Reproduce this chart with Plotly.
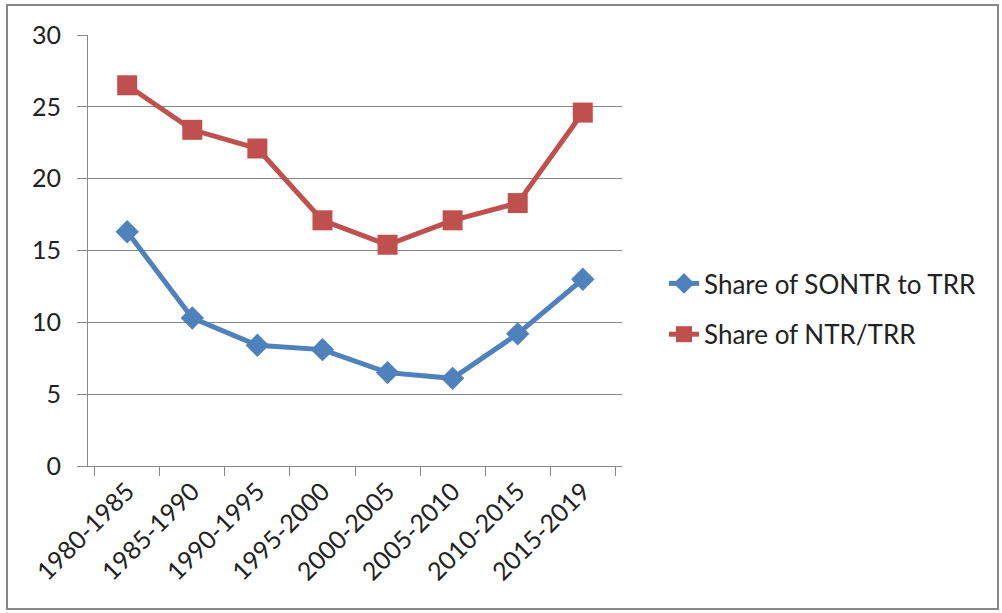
import plotly.graph_objects as go

categories = ["1980-1985", "1985-1990", "1990-1995", "1995-2000",
              "2000-2005", "2005-2010", "2010-2015", "2015-2019"]
sontr_share = [16.3, 10.3, 8.4, 8.1, 6.5, 6.1, 9.2, 13.0]
ntr_share = [26.5, 23.4, 22.1, 17.1, 15.4, 17.1, 18.3, 24.6]

FONT = "Lato"
fig = go.Figure()
fig.add_trace(go.Scatter(
    x=categories, y=sontr_share, name="Share of SONTR to TRR",
    mode="lines+markers", legendgroup="a",
    line=dict(color="#4F81BD", width=5),
    marker=dict(symbol="diamond", size=18, color="#4F81BD"),
))
fig.add_trace(go.Scatter(
    x=categories, y=ntr_share, name="Share of NTR/TRR",
    mode="lines+markers", legendgroup="b",
    line=dict(color="#C0504D", width=5),
    marker=dict(symbol="square", size=20, color="#C0504D"),
))

fig.update_layout(
    width=1002, height=613,
    margin=dict(l=88, r=380, t=35, b=147),
    paper_bgcolor="white", plot_bgcolor="white",
    font=dict(family=FONT, size=24, color="#222222"),
    legend=dict(x=(664-88)/534, y=(466-309)/431, xref="paper", yref="paper",
                xanchor="left", yanchor="middle",
                font=dict(size=26, family=FONT),
                tracegroupgap=14, bgcolor="rgba(0,0,0,0)"),
    xaxis=dict(
        type="category", tickangle=-45, showgrid=False,
        showline=True, linecolor="#888888", linewidth=1,
        ticks="outside", tickson="boundaries", ticklen=9, tickcolor="#888888",
        tickfont=dict(size=25, family=FONT), zeroline=False,
    ),
    yaxis=dict(
        range=[0, 30], dtick=5, showgrid=True, gridcolor="#888888", gridwidth=1,
        showline=True, linecolor="#888888", linewidth=1,
        ticks="outside", ticklen=10, tickcolor="#888888", ticklabelstandoff=11,
        tickfont=dict(size=25, family=FONT), zeroline=False,
    ),
    shapes=[dict(type="rect", xref="paper", yref="paper",
                 x0=-81/534, x1=(998-88)/534, y0=-(609-466)/431, y1=(466-5)/431,
                 line=dict(color="#888888", width=2))],
)

fig.write_html("out.html")
